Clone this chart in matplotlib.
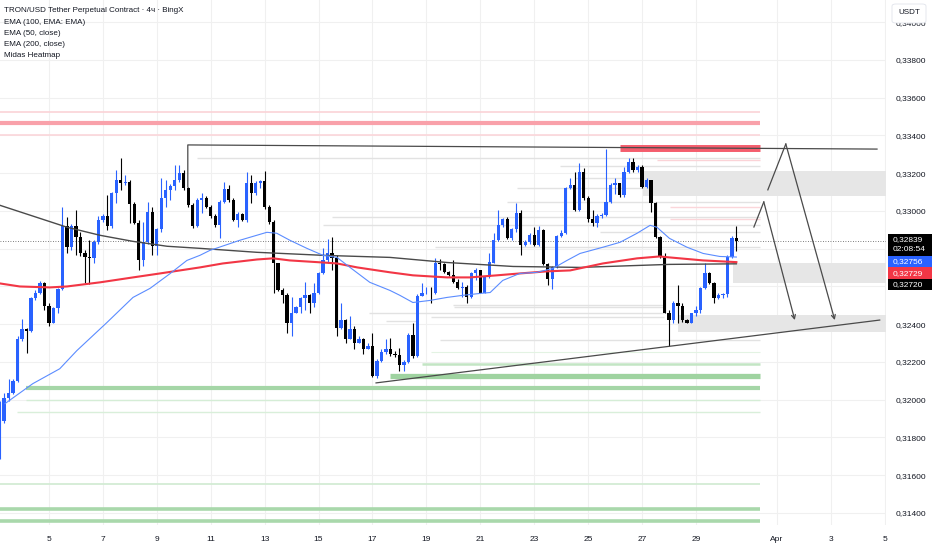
import matplotlib.pyplot as plt
from matplotlib.patches import Rectangle, FancyBboxPatch
import numpy as np


# ============================== DATA ======================================================
# 4h candles, x = candle number counted from 5 Mar 00:00
first_open = 0.31730
closes = [0.31889, 0.32011, 0.32037, 0.32101, 0.32324, 0.32372, 0.32366, 0.32537, 0.32563, 0.32616,
          0.32499, 0.32409, 0.32484, 0.32584, 0.32919, 0.32808, 0.32919, 0.32861, 0.32775, 0.32754,
          0.32749, 0.32834, 0.32951, 0.32972, 0.32919, 0.33094, 0.33163, 0.33147, 0.33153, 0.33036,
          0.32935, 0.32738, 0.32834, 0.32993, 0.32813, 0.32903, 0.33068, 0.33110, 0.33131, 0.33163,
          0.33200, 0.33121, 0.33030, 0.32919, 0.33057, 0.33068, 0.33020, 0.32972, 0.32924, 0.33046,
          0.33115, 0.33057, 0.32951, 0.32983, 0.32951, 0.33147, 0.33094, 0.33147, 0.33158, 0.33020,
          0.32940, 0.32722, 0.32579, 0.32553, 0.32409, 0.32457, 0.32489, 0.32537, 0.32553, 0.32510,
          0.32563, 0.32669, 0.32738, 0.32775, 0.32749, 0.32382, 0.32420, 0.32324, 0.32377, 0.32303,
          0.32324, 0.32271, 0.32287, 0.32128, 0.32207, 0.32255, 0.32271, 0.32244, 0.32239, 0.32186,
          0.32202, 0.32345, 0.32234, 0.32547, 0.32563, 0.32568, 0.32563, 0.32722, 0.32717, 0.32675,
          0.32659, 0.32622, 0.32590, 0.32595, 0.32542, 0.32669, 0.32685, 0.32568, 0.32648, 0.32727,
          0.32845, 0.32924, 0.32956, 0.32855, 0.32903, 0.32988, 0.32818, 0.32834, 0.32871, 0.32818,
          0.32898, 0.32717, 0.32637, 0.32701, 0.32866, 0.32882, 0.33121, 0.33137, 0.33004, 0.33206,
          0.33068, 0.32956, 0.32935, 0.32972, 0.32977, 0.33046, 0.33137, 0.33147, 0.33084, 0.33206,
          0.33259, 0.33216, 0.33232, 0.33126, 0.33163, 0.33041, 0.32861, 0.32759, 0.32462, 0.32420,
          0.32510, 0.32499, 0.32420, 0.32409, 0.32457, 0.32473, 0.32590, 0.32669, 0.32616, 0.32537,
          0.32553, 0.32558, 0.32754, 0.32855, 0.32839]
highs = [0.31995, 0.32037, 0.32112, 0.32112, 0.32340, 0.32430, 0.32382, 0.32542, 0.32579, 0.32627,
         0.32622, 0.32510, 0.32489, 0.32590, 0.33020, 0.32967, 0.32930, 0.33004, 0.32887, 0.32791,
         0.32845, 0.32845, 0.32972, 0.32983, 0.33084, 0.33100, 0.33216, 0.33280, 0.33190, 0.33163,
         0.33046, 0.32951, 0.32940, 0.33046, 0.33020, 0.32908, 0.33174, 0.33163, 0.33142, 0.33243,
         0.33243, 0.33216, 0.33126, 0.33041, 0.33068, 0.33094, 0.33078, 0.33030, 0.32983, 0.33057,
         0.33153, 0.33137, 0.33068, 0.32993, 0.32988, 0.33206, 0.33190, 0.33158, 0.33163, 0.33211,
         0.33030, 0.32951, 0.32727, 0.32590, 0.32568, 0.32542, 0.32494, 0.32542, 0.32622, 0.32558,
         0.32616, 0.32675, 0.32802, 0.32850, 0.32861, 0.32765, 0.32510, 0.32430, 0.32446, 0.32388,
         0.32335, 0.32329, 0.32298, 0.32351, 0.32218, 0.32271, 0.32324, 0.32329, 0.32260, 0.32276,
         0.32212, 0.32356, 0.32404, 0.32558, 0.32616, 0.32595, 0.32595, 0.32749, 0.32743, 0.32727,
         0.32680, 0.32738, 0.32637, 0.32622, 0.32606, 0.32675, 0.32696, 0.32685, 0.32653, 0.32775,
         0.32882, 0.33004, 0.32961, 0.32967, 0.32908, 0.33041, 0.33004, 0.32845, 0.32882, 0.32914,
         0.32919, 0.32903, 0.32722, 0.32706, 0.32871, 0.32898, 0.33126, 0.33174, 0.33206, 0.33253,
         0.33227, 0.33078, 0.33004, 0.32983, 0.32988, 0.33330, 0.33147, 0.33174, 0.33147, 0.33232,
         0.33280, 0.33280, 0.33243, 0.33243, 0.33174, 0.33163, 0.33046, 0.32866, 0.32775, 0.32473,
         0.32521, 0.32606, 0.32515, 0.32430, 0.32462, 0.32499, 0.32595, 0.32727, 0.32675, 0.32622,
         0.32563, 0.32563, 0.32765, 0.32866, 0.32919]
lows = [0.31687, 0.31878, 0.31995, 0.32032, 0.32096, 0.32313, 0.32250, 0.32361, 0.32526, 0.32558,
        0.32473, 0.32393, 0.32404, 0.32462, 0.32579, 0.32775, 0.32791, 0.32765, 0.32759, 0.32616,
        0.32611, 0.32727, 0.32823, 0.32940, 0.32898, 0.32908, 0.33041, 0.33110, 0.33137, 0.32935,
        0.32930, 0.32685, 0.32706, 0.32823, 0.32765, 0.32765, 0.32887, 0.33020, 0.33057, 0.33110,
        0.33153, 0.33110, 0.33020, 0.32908, 0.32914, 0.32988, 0.33014, 0.32961, 0.32914, 0.32855,
        0.33041, 0.33046, 0.32946, 0.32914, 0.32946, 0.32940, 0.33041, 0.33084, 0.33121, 0.33009,
        0.32930, 0.32568, 0.32574, 0.32510, 0.32351, 0.32340, 0.32457, 0.32457, 0.32473, 0.32457,
        0.32489, 0.32558, 0.32664, 0.32727, 0.32685, 0.32340, 0.32377, 0.32303, 0.32319, 0.32271,
        0.32298, 0.32244, 0.32266, 0.32122, 0.32117, 0.32202, 0.32244, 0.32234, 0.32228, 0.32154,
        0.32154, 0.32197, 0.32223, 0.32228, 0.32547, 0.32558, 0.32510, 0.32558, 0.32685, 0.32669,
        0.32653, 0.32616, 0.32584, 0.32542, 0.32510, 0.32537, 0.32632, 0.32563, 0.32563, 0.32643,
        0.32722, 0.32839, 0.32914, 0.32850, 0.32845, 0.32887, 0.32765, 0.32813, 0.32823, 0.32813,
        0.32813, 0.32712, 0.32606, 0.32584, 0.32696, 0.32861, 0.32876, 0.33115, 0.32999, 0.32999,
        0.33057, 0.32940, 0.32919, 0.32914, 0.32961, 0.32972, 0.33041, 0.33089, 0.33073, 0.33073,
        0.33200, 0.33206, 0.33206, 0.33121, 0.33121, 0.32993, 0.32855, 0.32749, 0.32457, 0.32282,
        0.32404, 0.32404, 0.32414, 0.32404, 0.32404, 0.32441, 0.32457, 0.32584, 0.32611, 0.32510,
        0.32531, 0.32537, 0.32542, 0.32749, 0.32786]
first_candle = -11

# moving averages, sampled along the drawn lines (candle number, price)
ema50_x = [-9.8, -3.6, 2.4, 6.2, 12.9, 18.7, 22.5, 27.0, 30.7, 33.6, 35.8, 42.5, 48.5, 50.7, 53.6,
           57.4, 61.0, 64.1, 67.0, 71.4, 75.9, 78.1, 81.0, 84.8, 88.6, 92.1, 95.9, 98.2, 101.0,
           104.8, 108.6, 112.2, 115.3, 118.2, 123.3, 127.1, 130.9, 133.8, 135.3, 138.1, 142.0,
           145.6, 149.3, 153.0]
ema50_y = [0.31979, 0.32085, 0.32164, 0.32260, 0.32409, 0.32542, 0.32590, 0.32669, 0.32738, 0.32765,
           0.32791, 0.32845, 0.32887, 0.32882, 0.32845, 0.32802, 0.32765, 0.32754, 0.32701, 0.32622,
           0.32579, 0.32553, 0.32515, 0.32526, 0.32542, 0.32553, 0.32563, 0.32568, 0.32632, 0.32669,
           0.32675, 0.32696, 0.32738, 0.32775, 0.32808, 0.32834, 0.32882, 0.32924, 0.32914, 0.32855,
           0.32808, 0.32775, 0.32759, 0.32756]
ema200_x = [-10.9, -6.5, 0.2, 4.0, 11.4, 18.7, 24.7, 33.6, 38.7, 46.3, 49.9, 53.6, 61.0, 64.1,
            68.6, 75.9, 81.0, 88.6, 93.7, 99.7, 104.8, 110.8, 116.0, 123.3, 130.9, 135.9, 138.1,
            145.6, 153.0]
ema200_y = [0.32616, 0.32600, 0.32595, 0.32600, 0.32622, 0.32648, 0.32669, 0.32701, 0.32722, 0.32743,
            0.32749, 0.32738, 0.32727, 0.32722, 0.32701, 0.32675, 0.32659, 0.32648, 0.32648, 0.32659,
            0.32669, 0.32680, 0.32685, 0.32722, 0.32749, 0.32759, 0.32754, 0.32738, 0.32729]
ema100_x = [-10.9, 4.0, 11.4, 18.7, 26.3, 33.6, 46.3, 61.0, 75.9, 88.6, 103.3, 118.2, 138.1, 153.0]
ema100_y = [0.33030, 0.32914, 0.32871, 0.32839, 0.32813, 0.32802, 0.32781, 0.32765, 0.32754, 0.32727,
            0.32706, 0.32701, 0.32717, 0.32720]

# Midas heatmap levels (price, first candle); all end at heat_end
heat_end = 158.2
red_levels = [0.33526, 0.33468, 0.33403, 0.33336, 0.33270, 0.33021, 0.32958]
red_start = [-11, -11, -11, 127.1, 135.3, 138.2, 138.2]
green_levels = [0.32380, 0.32253, 0.32189, 0.32126, 0.32062, 0.31999, 0.31935, 0.31554, 0.31421, 0.31358]
green_start = [141.1, 85.0, 83.0, 75.9, -5.1, -5.1, -7.1, -11, -11, -11]
gray_levels = [0.33281, 0.33238, 0.33175, 0.33122, 0.33048, 0.32968, 0.32926, 0.32889, 0.32809,
               0.32502, 0.32491, 0.32460, 0.32438, 0.32417, 0.32317]
gray_start = [32.9, 113.7, 117.1, 104.2, 101.9, 63.0, 61.0, 122.6, 85.9, 89.9, 90.1, 71.2, 85.0, 75.0, 87.0]
gray_end = [158.2, 158.2, 158.2, 158.2, 158.2, 158.2, 158.2, 158.2, 158.2, 136.9, 136.9, 136.9, 136.9, 81.9, 158.2]

# grey supply / demand boxes (low, high, first candle)
zone_lo = [0.33079, 0.32619, 0.32359]
zone_hi = [0.33212, 0.32724, 0.32449]
zone_start = [132.2, 152.2, 140.0]

# drawings
resist_x = [30.9, 30.9, 184.3]
resist_y = [0.33127, 0.33350, 0.33328]
support_x = [72.8, 184.9]
support_y = [0.32089, 0.32422]
path1_x = [156.9, 159.1, 166.0]
path1_y = [0.32915, 0.33048, 0.32422]
path2_x = [160.0, 164.0, 174.9]
path2_y = [0.33112, 0.33355, 0.32422]

date_ticks = [0, 12, 24, 36, 48, 60, 72, 84, 96, 108, 120, 132, 144, 162, 174, 186]
date_labels = ['5', '7', '9', '11', '13', '15', '17', '19', '21', '23', '25', '27', '29', 'Apr', '3', '5']
price_ticks = [0.314, 0.316, 0.318, 0.320, 0.322, 0.324, 0.326, 0.328, 0.330, 0.332, 0.334, 0.336, 0.338, 0.340]
hidden_ticks = [0.326, 0.328]

legend_lines = ['TRON/USD Tether Perpetual Contract · 4ч · BingX', 'EMA (100, EMA: EMA)',
                'EMA (50, close)', 'EMA (200, close)', 'Midas Heatmap']


# ============================== FIGURE =================================
plt.rcParams['font.family'] = ['Liberation Sans', 'DejaVu Sans']
W, H = 932, 550
UP, DOWN = '#2962ff', '#000000'
TXT = '#131722'

fig = plt.figure(figsize=(W / 100, H / 100), dpi=100)
ax = fig.add_axes([0, 25 / H, 886 / W, 525 / H])
ax.set_xlim(-10.9, 186.3)
ax.set_ylim(0.31336, 0.34118)
for s in ax.spines.values():
    s.set_visible(False)

ax.set_xticks(date_ticks)
ax.set_xticklabels(date_labels)
ax.set_yticks(price_ticks)
ax.set_yticklabels(['' if any(abs(p - q) < 1e-9 for q in hidden_ticks) else f'{p:.5f}'.replace('.', ',')
                    for p in price_ticks])
ax.yaxis.tick_right()
ax.tick_params(axis='y', length=0, pad=7, labelsize=6, labelcolor=TXT)
ax.tick_params(axis='x', length=0, pad=8, labelsize=6, labelcolor=TXT)
ax.grid(True, color='#f0f0f0', lw=0.8, zorder=0)
ax.set_axisbelow(True)

# heatmap
red_w = [1.2, 3.0, 1.2, 5.0, 1.0, 1.0, 1.0]
red_c = ['#fbd3d7', '#f9a1aa', '#fbd6da', '#f45d6d', '#fbd3d7', '#fbd6da', '#fbd6da']
for p, x0, lw, c in zip(red_levels, red_start, red_w, red_c):
    ax.hlines(p, x0, heat_end, color=c, lw=lw, zorder=1)
green_w = [2.2, 0.8, 1.8, 3.8, 3.0, 1.0, 1.0, 1.3, 2.6, 2.6]
green_c = ['#a5d6a7', '#e3f3e3', '#c3e5c4', '#9fd3a0', '#a5d6a7', '#d5edd6', '#d9efda',
           '#d3ecd4', '#a9d8ab', '#a9d8ab']
for p, x0, lw, c in zip(green_levels, green_start, green_w, green_c):
    ax.hlines(p, x0, heat_end, color=c, lw=lw, zorder=1)
for p, x0, x1 in zip(gray_levels, gray_start, gray_end):
    ax.hlines(p, x0, x1, color='#e2e2e2', lw=1.0, zorder=1)

# grey boxes
for lo, hi, x0 in zip(zone_lo, zone_hi, zone_start):
    ax.add_patch(Rectangle((x0, lo), 186.3 - x0, hi - lo, facecolor='#e6e6e6', edgecolor='none', zorder=1))

# ============================== CANDLES =================================
opens = [first_open] + closes[:-1]
xs = np.arange(len(closes)) + first_candle
for xi, o, h, l, c in zip(xs, opens, highs, lows, closes):
    col = UP if c >= o else DOWN
    ax.vlines(xi, min(l, o, c), max(h, o, c), color=col, lw=0.8, zorder=3)
    ax.bar(xi, max(abs(c - o), 0.00005), bottom=min(o, c), width=0.72, color=col, lw=0, zorder=3)

# moving averages
ax.plot(ema100_x, ema100_y, color='#4a4a4a', lw=1.0, zorder=4)
ax.plot(ema200_x, ema200_y, color='#f23645', lw=1.5, zorder=4)
ax.plot(ema50_x, ema50_y, color='#5b8cff', lw=0.8, zorder=4)

# last price line
ax.axhline(closes[-1], color='#555555', lw=0.6, ls=(0, (1, 2)), zorder=2)

# drawings
ax.plot(resist_x, resist_y, color='#4a4a4a', lw=0.9, zorder=5)
ax.plot(support_x, support_y, color='#4a4a4a', lw=0.9, zorder=5)
for px_, py_ in [(path1_x, path1_y), (path2_x, path2_y)]:
    ax.plot(px_[:2], py_[:2], color='#4a4a4a', lw=0.9, zorder=5)
    ax.annotate('', xy=(px_[2], py_[2]), xytext=(px_[1], py_[1]),
                arrowprops=dict(arrowstyle='->', color='#4a4a4a', lw=0.9, shrinkA=0, shrinkB=0,
                                mutation_scale=7), zorder=5)

# ============================== LABELS =================================
for i, s in enumerate(legend_lines):
    fig.text(4 / W, 1 - (11 + 11.2 * i) / H, s, fontsize=5.8, color=TXT, va='center', ha='left')

# USDT box
fig.add_artist(FancyBboxPatch((892 / W, 1 - 23 / H), 34 / W, 19 / H, boxstyle='round,pad=0,rounding_size=0.004',
                              transform=fig.transFigure, facecolor='white', edgecolor='#e0e3eb', lw=0.6))
fig.text(909 / W, 1 - 13 / H, 'USDT', fontsize=5.8, color=TXT, ha='center', va='center')

# value tags on the price scale, stacked under the last price
y_last = ax.transData.transform((0, closes[-1]))[1]
tags = [(['0,32839', '02:08:54'], '#000000', 22),
        (['0,32756'], '#2962ff', 11.5),
        (['0,32729'], '#f23645', 11.5),
        (['0,32720'], '#000000', 11.5)]
top = y_last + 7.5
for lines, col, h in tags:
    fig.add_artist(Rectangle((888 / W, (top - h) / H), (W - 888) / W, h / H,
                             transform=fig.transFigure, facecolor=col, edgecolor='none'))
    for j, s in enumerate(lines):
        fig.text(893 / W, (top - 5.8 - 10 * j) / H, s, fontsize=6, color='white', va='center', ha='left')
    top -= h

fig.savefig('out.png', dpi=100)
